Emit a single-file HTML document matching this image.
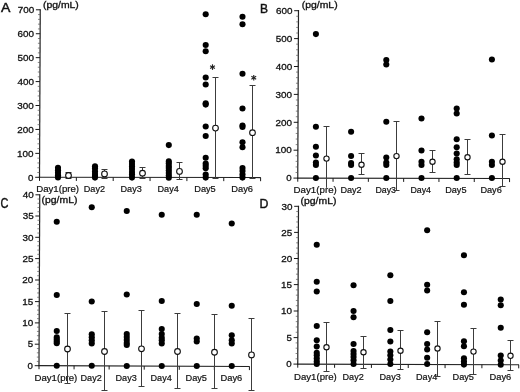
<!DOCTYPE html>
<html><head><meta charset="utf-8"><title>Figure</title>
<style>
html,body{margin:0;padding:0;background:#fff;}
body{width:520px;height:392px;overflow:hidden;font-family:"Liberation Sans",sans-serif;}
svg{display:block;will-change:transform;opacity:0.999;}
svg text{font-family:"Liberation Sans",sans-serif;}
</style></head><body>
<svg width="520" height="392" viewBox="0 0 520 392">
<rect width="520" height="392" fill="#fff"/>
<line x1="40.25" y1="9.25" x2="39.50" y2="177.80" stroke="#222" stroke-width="1.2"/>
<line x1="38.90" y1="177.30" x2="260.80" y2="177.60" stroke="#222" stroke-width="1.05"/>
<line x1="35.20" y1="177.30" x2="39.50" y2="177.30" stroke="#1a1a1a" stroke-width="1.0"/>
<text x="28.10" y="180.50" font-size="9.2" text-anchor="start" fill="#111" font-weight="normal" stroke="#111" stroke-width="0.3" textLength="5.40" lengthAdjust="spacingAndGlyphs">0</text>
<line x1="35.31" y1="153.37" x2="39.61" y2="153.37" stroke="#1a1a1a" stroke-width="1.0"/>
<text x="17.11" y="156.57" font-size="9.2" text-anchor="start" fill="#111" font-weight="normal" stroke="#111" stroke-width="0.3" textLength="16.50" lengthAdjust="spacingAndGlyphs">100</text>
<line x1="35.41" y1="129.44" x2="39.71" y2="129.44" stroke="#1a1a1a" stroke-width="1.0"/>
<text x="17.21" y="132.64" font-size="9.2" text-anchor="start" fill="#111" font-weight="normal" stroke="#111" stroke-width="0.3" textLength="16.50" lengthAdjust="spacingAndGlyphs">200</text>
<line x1="35.52" y1="105.51" x2="39.82" y2="105.51" stroke="#1a1a1a" stroke-width="1.0"/>
<text x="17.32" y="108.71" font-size="9.2" text-anchor="start" fill="#111" font-weight="normal" stroke="#111" stroke-width="0.3" textLength="16.50" lengthAdjust="spacingAndGlyphs">300</text>
<line x1="35.63" y1="81.58" x2="39.93" y2="81.58" stroke="#1a1a1a" stroke-width="1.0"/>
<text x="17.43" y="84.78" font-size="9.2" text-anchor="start" fill="#111" font-weight="normal" stroke="#111" stroke-width="0.3" textLength="16.50" lengthAdjust="spacingAndGlyphs">400</text>
<line x1="35.74" y1="57.65" x2="40.04" y2="57.65" stroke="#1a1a1a" stroke-width="1.0"/>
<text x="17.54" y="60.85" font-size="9.2" text-anchor="start" fill="#111" font-weight="normal" stroke="#111" stroke-width="0.3" textLength="16.50" lengthAdjust="spacingAndGlyphs">500</text>
<line x1="35.84" y1="33.72" x2="40.14" y2="33.72" stroke="#1a1a1a" stroke-width="1.0"/>
<text x="17.64" y="36.92" font-size="9.2" text-anchor="start" fill="#111" font-weight="normal" stroke="#111" stroke-width="0.3" textLength="16.50" lengthAdjust="spacingAndGlyphs">600</text>
<line x1="35.95" y1="9.79" x2="40.25" y2="9.79" stroke="#1a1a1a" stroke-width="1.0"/>
<text x="17.75" y="12.99" font-size="9.2" text-anchor="start" fill="#111" font-weight="normal" stroke="#111" stroke-width="0.3" textLength="16.50" lengthAdjust="spacingAndGlyphs">700</text>
<line x1="37.32" y1="172.51" x2="39.52" y2="172.51" stroke="#555" stroke-width="0.7"/>
<line x1="37.34" y1="167.73" x2="39.54" y2="167.73" stroke="#555" stroke-width="0.7"/>
<line x1="37.36" y1="162.94" x2="39.56" y2="162.94" stroke="#555" stroke-width="0.7"/>
<line x1="37.39" y1="158.16" x2="39.59" y2="158.16" stroke="#555" stroke-width="0.7"/>
<line x1="37.43" y1="148.58" x2="39.63" y2="148.58" stroke="#555" stroke-width="0.7"/>
<line x1="37.45" y1="143.80" x2="39.65" y2="143.80" stroke="#555" stroke-width="0.7"/>
<line x1="37.47" y1="139.01" x2="39.67" y2="139.01" stroke="#555" stroke-width="0.7"/>
<line x1="37.49" y1="134.23" x2="39.69" y2="134.23" stroke="#555" stroke-width="0.7"/>
<line x1="37.54" y1="124.65" x2="39.74" y2="124.65" stroke="#555" stroke-width="0.7"/>
<line x1="37.56" y1="119.87" x2="39.76" y2="119.87" stroke="#555" stroke-width="0.7"/>
<line x1="37.58" y1="115.08" x2="39.78" y2="115.08" stroke="#555" stroke-width="0.7"/>
<line x1="37.60" y1="110.30" x2="39.80" y2="110.30" stroke="#555" stroke-width="0.7"/>
<line x1="37.64" y1="100.72" x2="39.84" y2="100.72" stroke="#555" stroke-width="0.7"/>
<line x1="37.66" y1="95.94" x2="39.86" y2="95.94" stroke="#555" stroke-width="0.7"/>
<line x1="37.69" y1="91.15" x2="39.89" y2="91.15" stroke="#555" stroke-width="0.7"/>
<line x1="37.71" y1="86.37" x2="39.91" y2="86.37" stroke="#555" stroke-width="0.7"/>
<line x1="37.75" y1="76.79" x2="39.95" y2="76.79" stroke="#555" stroke-width="0.7"/>
<line x1="37.77" y1="72.01" x2="39.97" y2="72.01" stroke="#555" stroke-width="0.7"/>
<line x1="37.79" y1="67.22" x2="39.99" y2="67.22" stroke="#555" stroke-width="0.7"/>
<line x1="37.81" y1="62.44" x2="40.01" y2="62.44" stroke="#555" stroke-width="0.7"/>
<line x1="37.86" y1="52.86" x2="40.06" y2="52.86" stroke="#555" stroke-width="0.7"/>
<line x1="37.88" y1="48.08" x2="40.08" y2="48.08" stroke="#555" stroke-width="0.7"/>
<line x1="37.90" y1="43.29" x2="40.10" y2="43.29" stroke="#555" stroke-width="0.7"/>
<line x1="37.92" y1="38.51" x2="40.12" y2="38.51" stroke="#555" stroke-width="0.7"/>
<line x1="37.96" y1="28.93" x2="40.16" y2="28.93" stroke="#555" stroke-width="0.7"/>
<line x1="37.99" y1="24.15" x2="40.19" y2="24.15" stroke="#555" stroke-width="0.7"/>
<line x1="38.01" y1="19.36" x2="40.21" y2="19.36" stroke="#555" stroke-width="0.7"/>
<line x1="38.03" y1="14.58" x2="40.23" y2="14.58" stroke="#555" stroke-width="0.7"/>
<line x1="39.50" y1="177.30" x2="39.50" y2="180.90" stroke="#1a1a1a" stroke-width="1.0"/>
<line x1="76.35" y1="177.35" x2="76.35" y2="180.95" stroke="#1a1a1a" stroke-width="1.0"/>
<line x1="113.20" y1="177.40" x2="113.20" y2="181.00" stroke="#1a1a1a" stroke-width="1.0"/>
<line x1="150.05" y1="177.45" x2="150.05" y2="181.05" stroke="#1a1a1a" stroke-width="1.0"/>
<line x1="186.90" y1="177.50" x2="186.90" y2="181.10" stroke="#1a1a1a" stroke-width="1.0"/>
<line x1="223.75" y1="177.55" x2="223.75" y2="181.15" stroke="#1a1a1a" stroke-width="1.0"/>
<line x1="260.60" y1="177.60" x2="260.60" y2="181.20" stroke="#1a1a1a" stroke-width="1.0"/>
<text x="36.20" y="191.70" font-size="9" text-anchor="start" fill="#111" font-weight="normal" stroke="#111" stroke-width="0.2" textLength="42.90" lengthAdjust="spacingAndGlyphs">Day1(pre)</text>
<text x="83.75" y="191.70" font-size="9" text-anchor="start" fill="#111" font-weight="normal" stroke="#111" stroke-width="0.2" textLength="21.25" lengthAdjust="spacingAndGlyphs">Day2</text>
<text x="120.50" y="191.70" font-size="9" text-anchor="start" fill="#111" font-weight="normal" stroke="#111" stroke-width="0.2" textLength="21.25" lengthAdjust="spacingAndGlyphs">Day3</text>
<text x="157.50" y="191.70" font-size="9" text-anchor="start" fill="#111" font-weight="normal" stroke="#111" stroke-width="0.2" textLength="21.25" lengthAdjust="spacingAndGlyphs">Day4</text>
<text x="194.25" y="191.70" font-size="9" text-anchor="start" fill="#111" font-weight="normal" stroke="#111" stroke-width="0.2" textLength="21.50" lengthAdjust="spacingAndGlyphs">Day5</text>
<text x="231.25" y="191.70" font-size="9" text-anchor="start" fill="#111" font-weight="normal" stroke="#111" stroke-width="0.2" textLength="21.75" lengthAdjust="spacingAndGlyphs">Day6</text>
<circle cx="58.00" cy="167.70" r="3.05" fill="#000"/>
<circle cx="58.00" cy="170.30" r="3.05" fill="#000"/>
<circle cx="58.00" cy="172.80" r="3.05" fill="#000"/>
<circle cx="58.00" cy="175.20" r="3.05" fill="#000"/>
<circle cx="58.00" cy="177.50" r="3.05" fill="#000"/>
<circle cx="95.00" cy="166.30" r="3.05" fill="#000"/>
<circle cx="95.00" cy="168.60" r="3.05" fill="#000"/>
<circle cx="95.00" cy="171.50" r="3.05" fill="#000"/>
<circle cx="95.00" cy="174.00" r="3.05" fill="#000"/>
<circle cx="95.00" cy="176.00" r="3.05" fill="#000"/>
<circle cx="95.00" cy="177.60" r="3.05" fill="#000"/>
<circle cx="132.00" cy="161.50" r="3.05" fill="#000"/>
<circle cx="132.00" cy="164.00" r="3.05" fill="#000"/>
<circle cx="132.00" cy="166.50" r="3.05" fill="#000"/>
<circle cx="132.00" cy="169.00" r="3.05" fill="#000"/>
<circle cx="132.00" cy="172.00" r="3.05" fill="#000"/>
<circle cx="132.00" cy="174.50" r="3.05" fill="#000"/>
<circle cx="132.00" cy="177.60" r="3.05" fill="#000"/>
<circle cx="168.80" cy="145.10" r="3.05" fill="#000"/>
<circle cx="168.80" cy="161.40" r="3.05" fill="#000"/>
<circle cx="168.80" cy="163.50" r="3.05" fill="#000"/>
<circle cx="168.80" cy="166.00" r="3.05" fill="#000"/>
<circle cx="168.80" cy="168.00" r="3.05" fill="#000"/>
<circle cx="168.80" cy="170.50" r="3.05" fill="#000"/>
<circle cx="168.80" cy="173.00" r="3.05" fill="#000"/>
<circle cx="168.80" cy="175.50" r="3.05" fill="#000"/>
<circle cx="168.80" cy="177.70" r="3.05" fill="#000"/>
<circle cx="205.70" cy="14.25" r="3.05" fill="#000"/>
<circle cx="205.70" cy="45.00" r="3.05" fill="#000"/>
<circle cx="205.70" cy="51.25" r="3.05" fill="#000"/>
<circle cx="205.70" cy="77.50" r="3.05" fill="#000"/>
<circle cx="205.70" cy="84.50" r="3.05" fill="#000"/>
<circle cx="205.70" cy="103.20" r="3.05" fill="#000"/>
<circle cx="205.70" cy="104.60" r="3.05" fill="#000"/>
<circle cx="205.70" cy="126.50" r="3.05" fill="#000"/>
<circle cx="205.70" cy="136.00" r="3.05" fill="#000"/>
<circle cx="205.70" cy="157.70" r="3.05" fill="#000"/>
<circle cx="205.70" cy="163.50" r="3.05" fill="#000"/>
<circle cx="205.70" cy="165.80" r="3.05" fill="#000"/>
<circle cx="205.70" cy="168.20" r="3.05" fill="#000"/>
<circle cx="205.70" cy="174.50" r="3.05" fill="#000"/>
<circle cx="205.70" cy="177.60" r="3.05" fill="#000"/>
<circle cx="242.50" cy="16.75" r="3.05" fill="#000"/>
<circle cx="242.50" cy="24.25" r="3.05" fill="#000"/>
<circle cx="242.50" cy="73.75" r="3.05" fill="#000"/>
<circle cx="242.50" cy="108.50" r="3.05" fill="#000"/>
<circle cx="242.50" cy="125.60" r="3.05" fill="#000"/>
<circle cx="242.50" cy="127.00" r="3.05" fill="#000"/>
<circle cx="242.50" cy="142.30" r="3.05" fill="#000"/>
<circle cx="242.50" cy="147.30" r="3.05" fill="#000"/>
<circle cx="242.50" cy="168.00" r="3.05" fill="#000"/>
<circle cx="242.50" cy="171.00" r="3.05" fill="#000"/>
<circle cx="242.50" cy="174.50" r="3.05" fill="#000"/>
<circle cx="242.50" cy="177.60" r="3.05" fill="#000"/>
<line x1="68.50" y1="172.70" x2="68.50" y2="178.30" stroke="#3c3c3c" stroke-width="1.0"/>
<line x1="65.50" y1="172.50" x2="71.50" y2="172.50" stroke="#3c3c3c" stroke-width="1.0"/>
<line x1="65.50" y1="178.50" x2="71.50" y2="178.50" stroke="#3c3c3c" stroke-width="1.0"/>
<circle cx="68.50" cy="175.50" r="2.85" fill="#fff" stroke="#111" stroke-width="1.1"/>
<line x1="104.50" y1="169.25" x2="104.50" y2="178.60" stroke="#3c3c3c" stroke-width="1.0"/>
<line x1="101.50" y1="169.50" x2="107.50" y2="169.50" stroke="#3c3c3c" stroke-width="1.0"/>
<line x1="101.50" y1="178.50" x2="107.50" y2="178.50" stroke="#3c3c3c" stroke-width="1.0"/>
<circle cx="104.50" cy="173.90" r="2.85" fill="#fff" stroke="#111" stroke-width="1.1"/>
<line x1="142.50" y1="167.50" x2="142.50" y2="178.70" stroke="#3c3c3c" stroke-width="1.0"/>
<line x1="139.50" y1="167.50" x2="145.50" y2="167.50" stroke="#3c3c3c" stroke-width="1.0"/>
<line x1="139.50" y1="178.50" x2="145.50" y2="178.50" stroke="#3c3c3c" stroke-width="1.0"/>
<circle cx="142.50" cy="173.20" r="2.85" fill="#fff" stroke="#111" stroke-width="1.1"/>
<line x1="179.50" y1="162.50" x2="179.50" y2="179.40" stroke="#3c3c3c" stroke-width="1.0"/>
<line x1="176.50" y1="162.50" x2="182.50" y2="162.50" stroke="#3c3c3c" stroke-width="1.0"/>
<line x1="176.50" y1="179.50" x2="182.50" y2="179.50" stroke="#3c3c3c" stroke-width="1.0"/>
<circle cx="179.50" cy="171.40" r="2.85" fill="#fff" stroke="#111" stroke-width="1.1"/>
<line x1="215.50" y1="77.50" x2="215.50" y2="178.30" stroke="#3c3c3c" stroke-width="1.0"/>
<line x1="212.50" y1="77.50" x2="218.50" y2="77.50" stroke="#3c3c3c" stroke-width="1.0"/>
<line x1="212.50" y1="178.50" x2="218.50" y2="178.50" stroke="#3c3c3c" stroke-width="1.0"/>
<circle cx="215.50" cy="128.10" r="2.85" fill="#fff" stroke="#111" stroke-width="1.1"/>
<line x1="252.50" y1="85.50" x2="252.50" y2="178.30" stroke="#3c3c3c" stroke-width="1.0"/>
<line x1="249.50" y1="85.50" x2="255.50" y2="85.50" stroke="#3c3c3c" stroke-width="1.0"/>
<line x1="249.50" y1="178.50" x2="255.50" y2="178.50" stroke="#3c3c3c" stroke-width="1.0"/>
<circle cx="252.50" cy="132.70" r="2.85" fill="#fff" stroke="#111" stroke-width="1.1"/>
<text x="1.00" y="11.90" font-size="13" text-anchor="start" fill="#111" font-weight="normal" stroke="#111" stroke-width="0.45" textLength="9.40" lengthAdjust="spacingAndGlyphs">A</text>
<text x="43.00" y="7.60" font-size="8.8" text-anchor="start" fill="#111" font-weight="normal" stroke="#111" stroke-width="0.3" textLength="35.80" lengthAdjust="spacingAndGlyphs">(pg/mL)</text>
<line x1="212.50" y1="64.30" x2="212.50" y2="69.90" stroke="#222" stroke-width="1.15"/>
<line x1="210.08" y1="65.70" x2="214.92" y2="68.50" stroke="#222" stroke-width="1.15"/>
<line x1="214.92" y1="65.70" x2="210.08" y2="68.50" stroke="#222" stroke-width="1.15"/>
<line x1="253.75" y1="74.95" x2="253.75" y2="80.55" stroke="#222" stroke-width="1.15"/>
<line x1="251.33" y1="76.35" x2="256.17" y2="79.15" stroke="#222" stroke-width="1.15"/>
<line x1="256.17" y1="76.35" x2="251.33" y2="79.15" stroke="#222" stroke-width="1.15"/>
<line x1="298.50" y1="10.00" x2="297.75" y2="178.60" stroke="#222" stroke-width="1.2"/>
<line x1="297.15" y1="178.10" x2="509.80" y2="178.50" stroke="#222" stroke-width="1.05"/>
<line x1="293.45" y1="178.10" x2="297.75" y2="178.10" stroke="#1a1a1a" stroke-width="1.0"/>
<text x="286.35" y="181.30" font-size="9.2" text-anchor="start" fill="#111" font-weight="normal" stroke="#111" stroke-width="0.3" textLength="5.40" lengthAdjust="spacingAndGlyphs">0</text>
<line x1="293.57" y1="150.20" x2="297.87" y2="150.20" stroke="#1a1a1a" stroke-width="1.0"/>
<text x="275.37" y="153.40" font-size="9.2" text-anchor="start" fill="#111" font-weight="normal" stroke="#111" stroke-width="0.3" textLength="16.50" lengthAdjust="spacingAndGlyphs">100</text>
<line x1="293.70" y1="122.30" x2="298.00" y2="122.30" stroke="#1a1a1a" stroke-width="1.0"/>
<text x="275.50" y="125.50" font-size="9.2" text-anchor="start" fill="#111" font-weight="normal" stroke="#111" stroke-width="0.3" textLength="16.50" lengthAdjust="spacingAndGlyphs">200</text>
<line x1="293.82" y1="94.40" x2="298.12" y2="94.40" stroke="#1a1a1a" stroke-width="1.0"/>
<text x="275.62" y="97.60" font-size="9.2" text-anchor="start" fill="#111" font-weight="normal" stroke="#111" stroke-width="0.3" textLength="16.50" lengthAdjust="spacingAndGlyphs">300</text>
<line x1="293.95" y1="66.50" x2="298.25" y2="66.50" stroke="#1a1a1a" stroke-width="1.0"/>
<text x="275.75" y="69.70" font-size="9.2" text-anchor="start" fill="#111" font-weight="normal" stroke="#111" stroke-width="0.3" textLength="16.50" lengthAdjust="spacingAndGlyphs">400</text>
<line x1="294.07" y1="38.60" x2="298.37" y2="38.60" stroke="#1a1a1a" stroke-width="1.0"/>
<text x="275.87" y="41.80" font-size="9.2" text-anchor="start" fill="#111" font-weight="normal" stroke="#111" stroke-width="0.3" textLength="16.50" lengthAdjust="spacingAndGlyphs">500</text>
<line x1="294.20" y1="10.70" x2="298.50" y2="10.70" stroke="#1a1a1a" stroke-width="1.0"/>
<text x="276.00" y="13.90" font-size="9.2" text-anchor="start" fill="#111" font-weight="normal" stroke="#111" stroke-width="0.3" textLength="16.50" lengthAdjust="spacingAndGlyphs">600</text>
<line x1="295.57" y1="172.52" x2="297.77" y2="172.52" stroke="#555" stroke-width="0.7"/>
<line x1="295.60" y1="166.94" x2="297.80" y2="166.94" stroke="#555" stroke-width="0.7"/>
<line x1="295.62" y1="161.36" x2="297.82" y2="161.36" stroke="#555" stroke-width="0.7"/>
<line x1="295.65" y1="155.78" x2="297.85" y2="155.78" stroke="#555" stroke-width="0.7"/>
<line x1="295.70" y1="144.62" x2="297.90" y2="144.62" stroke="#555" stroke-width="0.7"/>
<line x1="295.72" y1="139.04" x2="297.92" y2="139.04" stroke="#555" stroke-width="0.7"/>
<line x1="295.75" y1="133.46" x2="297.95" y2="133.46" stroke="#555" stroke-width="0.7"/>
<line x1="295.77" y1="127.88" x2="297.97" y2="127.88" stroke="#555" stroke-width="0.7"/>
<line x1="295.82" y1="116.72" x2="298.02" y2="116.72" stroke="#555" stroke-width="0.7"/>
<line x1="295.85" y1="111.14" x2="298.05" y2="111.14" stroke="#555" stroke-width="0.7"/>
<line x1="295.87" y1="105.56" x2="298.07" y2="105.56" stroke="#555" stroke-width="0.7"/>
<line x1="295.90" y1="99.98" x2="298.10" y2="99.98" stroke="#555" stroke-width="0.7"/>
<line x1="295.95" y1="88.82" x2="298.15" y2="88.82" stroke="#555" stroke-width="0.7"/>
<line x1="295.97" y1="83.24" x2="298.17" y2="83.24" stroke="#555" stroke-width="0.7"/>
<line x1="296.00" y1="77.66" x2="298.20" y2="77.66" stroke="#555" stroke-width="0.7"/>
<line x1="296.02" y1="72.08" x2="298.22" y2="72.08" stroke="#555" stroke-width="0.7"/>
<line x1="296.07" y1="60.92" x2="298.27" y2="60.92" stroke="#555" stroke-width="0.7"/>
<line x1="296.10" y1="55.34" x2="298.30" y2="55.34" stroke="#555" stroke-width="0.7"/>
<line x1="296.12" y1="49.76" x2="298.32" y2="49.76" stroke="#555" stroke-width="0.7"/>
<line x1="296.15" y1="44.18" x2="298.35" y2="44.18" stroke="#555" stroke-width="0.7"/>
<line x1="296.20" y1="33.02" x2="298.40" y2="33.02" stroke="#555" stroke-width="0.7"/>
<line x1="296.22" y1="27.44" x2="298.42" y2="27.44" stroke="#555" stroke-width="0.7"/>
<line x1="296.25" y1="21.86" x2="298.45" y2="21.86" stroke="#555" stroke-width="0.7"/>
<line x1="296.27" y1="16.28" x2="298.47" y2="16.28" stroke="#555" stroke-width="0.7"/>
<line x1="297.75" y1="178.10" x2="297.75" y2="181.70" stroke="#1a1a1a" stroke-width="1.0"/>
<line x1="333.05" y1="178.17" x2="333.05" y2="181.77" stroke="#1a1a1a" stroke-width="1.0"/>
<line x1="368.35" y1="178.23" x2="368.35" y2="181.83" stroke="#1a1a1a" stroke-width="1.0"/>
<line x1="403.65" y1="178.30" x2="403.65" y2="181.90" stroke="#1a1a1a" stroke-width="1.0"/>
<line x1="438.95" y1="178.37" x2="438.95" y2="181.97" stroke="#1a1a1a" stroke-width="1.0"/>
<line x1="474.25" y1="178.43" x2="474.25" y2="182.03" stroke="#1a1a1a" stroke-width="1.0"/>
<line x1="509.55" y1="178.50" x2="509.55" y2="182.10" stroke="#1a1a1a" stroke-width="1.0"/>
<text x="293.60" y="192.90" font-size="9" text-anchor="start" fill="#111" font-weight="normal" stroke="#111" stroke-width="0.2" textLength="43.20" lengthAdjust="spacingAndGlyphs">Day1(pre)</text>
<text x="340.40" y="192.90" font-size="9" text-anchor="start" fill="#111" font-weight="normal" stroke="#111" stroke-width="0.2" textLength="21.25" lengthAdjust="spacingAndGlyphs">Day2</text>
<text x="375.40" y="192.90" font-size="9" text-anchor="start" fill="#111" font-weight="normal" stroke="#111" stroke-width="0.2" textLength="20.60" lengthAdjust="spacingAndGlyphs">Day3</text>
<text x="410.40" y="192.90" font-size="9" text-anchor="start" fill="#111" font-weight="normal" stroke="#111" stroke-width="0.2" textLength="20.60" lengthAdjust="spacingAndGlyphs">Day4</text>
<text x="445.20" y="192.90" font-size="9" text-anchor="start" fill="#111" font-weight="normal" stroke="#111" stroke-width="0.2" textLength="21.30" lengthAdjust="spacingAndGlyphs">Day5</text>
<text x="480.40" y="192.90" font-size="9" text-anchor="start" fill="#111" font-weight="normal" stroke="#111" stroke-width="0.2" textLength="21.40" lengthAdjust="spacingAndGlyphs">Day6</text>
<circle cx="315.90" cy="34.10" r="3.05" fill="#000"/>
<circle cx="315.90" cy="126.75" r="3.05" fill="#000"/>
<circle cx="315.90" cy="146.75" r="3.05" fill="#000"/>
<circle cx="315.90" cy="155.50" r="3.05" fill="#000"/>
<circle cx="315.90" cy="162.50" r="3.05" fill="#000"/>
<circle cx="315.90" cy="165.00" r="3.05" fill="#000"/>
<circle cx="315.90" cy="178.00" r="3.05" fill="#000"/>
<circle cx="351.10" cy="131.75" r="3.05" fill="#000"/>
<circle cx="351.10" cy="156.00" r="3.05" fill="#000"/>
<circle cx="351.10" cy="163.00" r="3.05" fill="#000"/>
<circle cx="351.10" cy="165.00" r="3.05" fill="#000"/>
<circle cx="351.10" cy="178.00" r="3.05" fill="#000"/>
<circle cx="386.30" cy="60.00" r="3.05" fill="#000"/>
<circle cx="386.30" cy="64.50" r="3.05" fill="#000"/>
<circle cx="386.30" cy="121.75" r="3.05" fill="#000"/>
<circle cx="386.30" cy="157.50" r="3.05" fill="#000"/>
<circle cx="386.30" cy="162.50" r="3.05" fill="#000"/>
<circle cx="386.30" cy="165.00" r="3.05" fill="#000"/>
<circle cx="386.30" cy="178.00" r="3.05" fill="#000"/>
<circle cx="421.50" cy="118.50" r="3.05" fill="#000"/>
<circle cx="421.50" cy="150.50" r="3.05" fill="#000"/>
<circle cx="421.50" cy="161.75" r="3.05" fill="#000"/>
<circle cx="421.50" cy="165.00" r="3.05" fill="#000"/>
<circle cx="421.50" cy="178.00" r="3.05" fill="#000"/>
<circle cx="456.70" cy="108.50" r="3.05" fill="#000"/>
<circle cx="456.70" cy="113.50" r="3.05" fill="#000"/>
<circle cx="456.70" cy="139.25" r="3.05" fill="#000"/>
<circle cx="456.70" cy="147.25" r="3.05" fill="#000"/>
<circle cx="456.70" cy="153.50" r="3.05" fill="#000"/>
<circle cx="456.70" cy="159.25" r="3.05" fill="#000"/>
<circle cx="456.70" cy="162.50" r="3.05" fill="#000"/>
<circle cx="456.70" cy="165.00" r="3.05" fill="#000"/>
<circle cx="456.70" cy="178.00" r="3.05" fill="#000"/>
<circle cx="491.90" cy="59.50" r="3.05" fill="#000"/>
<circle cx="491.90" cy="135.50" r="3.05" fill="#000"/>
<circle cx="491.90" cy="161.75" r="3.05" fill="#000"/>
<circle cx="491.90" cy="165.00" r="3.05" fill="#000"/>
<circle cx="491.90" cy="178.00" r="3.05" fill="#000"/>
<line x1="326.50" y1="126.75" x2="326.50" y2="187.80" stroke="#3c3c3c" stroke-width="1.0"/>
<line x1="323.50" y1="126.50" x2="329.50" y2="126.50" stroke="#3c3c3c" stroke-width="1.0"/>
<circle cx="326.50" cy="158.60" r="2.65" fill="#fff" stroke="#111" stroke-width="1.1"/>
<line x1="361.50" y1="153.50" x2="361.50" y2="175.00" stroke="#3c3c3c" stroke-width="1.0"/>
<line x1="358.50" y1="153.50" x2="364.50" y2="153.50" stroke="#3c3c3c" stroke-width="1.0"/>
<line x1="358.50" y1="174.50" x2="364.50" y2="174.50" stroke="#3c3c3c" stroke-width="1.0"/>
<circle cx="361.50" cy="164.75" r="2.65" fill="#fff" stroke="#111" stroke-width="1.1"/>
<line x1="396.50" y1="121.25" x2="396.50" y2="190.60" stroke="#3c3c3c" stroke-width="1.0"/>
<line x1="393.50" y1="121.50" x2="399.50" y2="121.50" stroke="#3c3c3c" stroke-width="1.0"/>
<line x1="393.50" y1="190.50" x2="399.50" y2="190.50" stroke="#3c3c3c" stroke-width="1.0"/>
<circle cx="396.50" cy="156.10" r="2.65" fill="#fff" stroke="#111" stroke-width="1.1"/>
<line x1="432.50" y1="150.50" x2="432.50" y2="172.25" stroke="#3c3c3c" stroke-width="1.0"/>
<line x1="429.50" y1="150.50" x2="435.50" y2="150.50" stroke="#3c3c3c" stroke-width="1.0"/>
<line x1="429.50" y1="172.50" x2="435.50" y2="172.50" stroke="#3c3c3c" stroke-width="1.0"/>
<circle cx="432.50" cy="161.75" r="2.65" fill="#fff" stroke="#111" stroke-width="1.1"/>
<line x1="467.50" y1="139.25" x2="467.50" y2="174.75" stroke="#3c3c3c" stroke-width="1.0"/>
<line x1="464.50" y1="139.50" x2="470.50" y2="139.50" stroke="#3c3c3c" stroke-width="1.0"/>
<line x1="464.50" y1="174.50" x2="470.50" y2="174.50" stroke="#3c3c3c" stroke-width="1.0"/>
<circle cx="467.50" cy="157.25" r="2.65" fill="#fff" stroke="#111" stroke-width="1.1"/>
<line x1="502.50" y1="135.00" x2="502.50" y2="186.75" stroke="#3c3c3c" stroke-width="1.0"/>
<line x1="499.50" y1="134.50" x2="505.50" y2="134.50" stroke="#3c3c3c" stroke-width="1.0"/>
<line x1="499.50" y1="186.50" x2="505.50" y2="186.50" stroke="#3c3c3c" stroke-width="1.0"/>
<circle cx="502.50" cy="161.75" r="2.65" fill="#fff" stroke="#111" stroke-width="1.1"/>
<text x="260.10" y="12.50" font-size="12.1" text-anchor="start" fill="#111" font-weight="normal" stroke="#111" stroke-width="0.45" textLength="8.00" lengthAdjust="spacingAndGlyphs">B</text>
<text x="301.80" y="7.60" font-size="8.8" text-anchor="start" fill="#111" font-weight="normal" stroke="#111" stroke-width="0.3" textLength="35.80" lengthAdjust="spacingAndGlyphs">(pg/mL)</text>
<line x1="39.75" y1="194.30" x2="39.00" y2="366.10" stroke="#222" stroke-width="1.2"/>
<line x1="38.40" y1="365.60" x2="249.60" y2="366.50" stroke="#222" stroke-width="1.05"/>
<line x1="34.70" y1="365.70" x2="39.00" y2="365.70" stroke="#1a1a1a" stroke-width="1.0"/>
<text x="27.60" y="368.90" font-size="9.2" text-anchor="start" fill="#111" font-weight="normal" stroke="#111" stroke-width="0.3" textLength="5.40" lengthAdjust="spacingAndGlyphs">0</text>
<line x1="34.79" y1="344.20" x2="39.09" y2="344.20" stroke="#1a1a1a" stroke-width="1.0"/>
<text x="27.69" y="347.40" font-size="9.2" text-anchor="start" fill="#111" font-weight="normal" stroke="#111" stroke-width="0.3" textLength="5.40" lengthAdjust="spacingAndGlyphs">5</text>
<line x1="34.89" y1="322.90" x2="39.19" y2="322.90" stroke="#1a1a1a" stroke-width="1.0"/>
<text x="22.19" y="326.10" font-size="9.2" text-anchor="start" fill="#111" font-weight="normal" stroke="#111" stroke-width="0.3" textLength="11.00" lengthAdjust="spacingAndGlyphs">10</text>
<line x1="34.98" y1="301.60" x2="39.28" y2="301.60" stroke="#1a1a1a" stroke-width="1.0"/>
<text x="22.28" y="304.80" font-size="9.2" text-anchor="start" fill="#111" font-weight="normal" stroke="#111" stroke-width="0.3" textLength="11.00" lengthAdjust="spacingAndGlyphs">15</text>
<line x1="35.08" y1="280.00" x2="39.38" y2="280.00" stroke="#1a1a1a" stroke-width="1.0"/>
<text x="22.38" y="283.20" font-size="9.2" text-anchor="start" fill="#111" font-weight="normal" stroke="#111" stroke-width="0.3" textLength="11.00" lengthAdjust="spacingAndGlyphs">20</text>
<line x1="35.17" y1="258.60" x2="39.47" y2="258.60" stroke="#1a1a1a" stroke-width="1.0"/>
<text x="22.47" y="261.80" font-size="9.2" text-anchor="start" fill="#111" font-weight="normal" stroke="#111" stroke-width="0.3" textLength="11.00" lengthAdjust="spacingAndGlyphs">25</text>
<line x1="35.26" y1="237.30" x2="39.56" y2="237.30" stroke="#1a1a1a" stroke-width="1.0"/>
<text x="22.56" y="240.50" font-size="9.2" text-anchor="start" fill="#111" font-weight="normal" stroke="#111" stroke-width="0.3" textLength="11.00" lengthAdjust="spacingAndGlyphs">30</text>
<line x1="35.36" y1="216.00" x2="39.66" y2="216.00" stroke="#1a1a1a" stroke-width="1.0"/>
<text x="22.66" y="219.20" font-size="9.2" text-anchor="start" fill="#111" font-weight="normal" stroke="#111" stroke-width="0.3" textLength="11.00" lengthAdjust="spacingAndGlyphs">35</text>
<line x1="35.45" y1="194.80" x2="39.75" y2="194.80" stroke="#1a1a1a" stroke-width="1.0"/>
<text x="22.75" y="198.00" font-size="9.2" text-anchor="start" fill="#111" font-weight="normal" stroke="#111" stroke-width="0.3" textLength="11.00" lengthAdjust="spacingAndGlyphs">40</text>
<line x1="36.82" y1="361.40" x2="39.02" y2="361.40" stroke="#555" stroke-width="0.7"/>
<line x1="36.84" y1="357.10" x2="39.04" y2="357.10" stroke="#555" stroke-width="0.7"/>
<line x1="36.86" y1="352.80" x2="39.06" y2="352.80" stroke="#555" stroke-width="0.7"/>
<line x1="36.88" y1="348.50" x2="39.08" y2="348.50" stroke="#555" stroke-width="0.7"/>
<line x1="36.91" y1="339.94" x2="39.11" y2="339.94" stroke="#555" stroke-width="0.7"/>
<line x1="36.93" y1="335.68" x2="39.13" y2="335.68" stroke="#555" stroke-width="0.7"/>
<line x1="36.95" y1="331.42" x2="39.15" y2="331.42" stroke="#555" stroke-width="0.7"/>
<line x1="36.97" y1="327.16" x2="39.17" y2="327.16" stroke="#555" stroke-width="0.7"/>
<line x1="37.01" y1="318.64" x2="39.21" y2="318.64" stroke="#555" stroke-width="0.7"/>
<line x1="37.02" y1="314.38" x2="39.22" y2="314.38" stroke="#555" stroke-width="0.7"/>
<line x1="37.04" y1="310.12" x2="39.24" y2="310.12" stroke="#555" stroke-width="0.7"/>
<line x1="37.06" y1="305.86" x2="39.26" y2="305.86" stroke="#555" stroke-width="0.7"/>
<line x1="37.10" y1="297.28" x2="39.30" y2="297.28" stroke="#555" stroke-width="0.7"/>
<line x1="37.12" y1="292.96" x2="39.32" y2="292.96" stroke="#555" stroke-width="0.7"/>
<line x1="37.14" y1="288.64" x2="39.34" y2="288.64" stroke="#555" stroke-width="0.7"/>
<line x1="37.16" y1="284.32" x2="39.36" y2="284.32" stroke="#555" stroke-width="0.7"/>
<line x1="37.19" y1="275.72" x2="39.39" y2="275.72" stroke="#555" stroke-width="0.7"/>
<line x1="37.21" y1="271.44" x2="39.41" y2="271.44" stroke="#555" stroke-width="0.7"/>
<line x1="37.23" y1="267.16" x2="39.43" y2="267.16" stroke="#555" stroke-width="0.7"/>
<line x1="37.25" y1="262.88" x2="39.45" y2="262.88" stroke="#555" stroke-width="0.7"/>
<line x1="37.29" y1="254.34" x2="39.49" y2="254.34" stroke="#555" stroke-width="0.7"/>
<line x1="37.31" y1="250.08" x2="39.51" y2="250.08" stroke="#555" stroke-width="0.7"/>
<line x1="37.33" y1="245.82" x2="39.53" y2="245.82" stroke="#555" stroke-width="0.7"/>
<line x1="37.34" y1="241.56" x2="39.54" y2="241.56" stroke="#555" stroke-width="0.7"/>
<line x1="37.38" y1="233.04" x2="39.58" y2="233.04" stroke="#555" stroke-width="0.7"/>
<line x1="37.40" y1="228.78" x2="39.60" y2="228.78" stroke="#555" stroke-width="0.7"/>
<line x1="37.42" y1="224.52" x2="39.62" y2="224.52" stroke="#555" stroke-width="0.7"/>
<line x1="37.44" y1="220.26" x2="39.64" y2="220.26" stroke="#555" stroke-width="0.7"/>
<line x1="37.48" y1="211.76" x2="39.68" y2="211.76" stroke="#555" stroke-width="0.7"/>
<line x1="37.49" y1="207.52" x2="39.69" y2="207.52" stroke="#555" stroke-width="0.7"/>
<line x1="37.51" y1="203.28" x2="39.71" y2="203.28" stroke="#555" stroke-width="0.7"/>
<line x1="37.53" y1="199.04" x2="39.73" y2="199.04" stroke="#555" stroke-width="0.7"/>
<line x1="39.00" y1="365.60" x2="39.00" y2="369.20" stroke="#1a1a1a" stroke-width="1.0"/>
<line x1="74.07" y1="365.75" x2="74.07" y2="369.35" stroke="#1a1a1a" stroke-width="1.0"/>
<line x1="109.14" y1="365.90" x2="109.14" y2="369.50" stroke="#1a1a1a" stroke-width="1.0"/>
<line x1="144.21" y1="366.05" x2="144.21" y2="369.65" stroke="#1a1a1a" stroke-width="1.0"/>
<line x1="179.28" y1="366.20" x2="179.28" y2="369.80" stroke="#1a1a1a" stroke-width="1.0"/>
<line x1="214.35" y1="366.35" x2="214.35" y2="369.95" stroke="#1a1a1a" stroke-width="1.0"/>
<line x1="249.42" y1="366.50" x2="249.42" y2="370.10" stroke="#1a1a1a" stroke-width="1.0"/>
<text x="34.50" y="380.60" font-size="9" text-anchor="start" fill="#111" font-weight="normal" stroke="#111" stroke-width="0.2" textLength="42.75" lengthAdjust="spacingAndGlyphs">Day1(pre)</text>
<text x="80.50" y="380.60" font-size="9" text-anchor="start" fill="#111" font-weight="normal" stroke="#111" stroke-width="0.2" textLength="21.25" lengthAdjust="spacingAndGlyphs">Day2</text>
<text x="115.50" y="380.60" font-size="9" text-anchor="start" fill="#111" font-weight="normal" stroke="#111" stroke-width="0.2" textLength="21.25" lengthAdjust="spacingAndGlyphs">Day3</text>
<text x="150.50" y="380.60" font-size="9" text-anchor="start" fill="#111" font-weight="normal" stroke="#111" stroke-width="0.2" textLength="21.25" lengthAdjust="spacingAndGlyphs">Day4</text>
<text x="185.50" y="380.60" font-size="9" text-anchor="start" fill="#111" font-weight="normal" stroke="#111" stroke-width="0.2" textLength="21.50" lengthAdjust="spacingAndGlyphs">Day5</text>
<text x="220.50" y="380.60" font-size="9" text-anchor="start" fill="#111" font-weight="normal" stroke="#111" stroke-width="0.2" textLength="21.75" lengthAdjust="spacingAndGlyphs">Day6</text>
<circle cx="56.75" cy="221.75" r="3.05" fill="#000"/>
<circle cx="56.75" cy="295.00" r="3.05" fill="#000"/>
<circle cx="56.75" cy="331.00" r="3.05" fill="#000"/>
<circle cx="56.75" cy="337.40" r="3.05" fill="#000"/>
<circle cx="56.75" cy="339.50" r="3.05" fill="#000"/>
<circle cx="56.75" cy="341.50" r="3.05" fill="#000"/>
<circle cx="56.75" cy="343.30" r="3.05" fill="#000"/>
<circle cx="56.75" cy="365.70" r="3.05" fill="#000"/>
<circle cx="91.75" cy="207.25" r="3.05" fill="#000"/>
<circle cx="91.75" cy="301.50" r="3.05" fill="#000"/>
<circle cx="91.75" cy="334.30" r="3.05" fill="#000"/>
<circle cx="91.75" cy="337.30" r="3.05" fill="#000"/>
<circle cx="91.75" cy="340.30" r="3.05" fill="#000"/>
<circle cx="91.75" cy="343.40" r="3.05" fill="#000"/>
<circle cx="91.75" cy="365.80" r="3.05" fill="#000"/>
<circle cx="126.75" cy="211.00" r="3.05" fill="#000"/>
<circle cx="126.75" cy="294.50" r="3.05" fill="#000"/>
<circle cx="126.75" cy="334.00" r="3.05" fill="#000"/>
<circle cx="126.75" cy="337.00" r="3.05" fill="#000"/>
<circle cx="126.75" cy="340.00" r="3.05" fill="#000"/>
<circle cx="126.75" cy="343.00" r="3.05" fill="#000"/>
<circle cx="126.75" cy="345.00" r="3.05" fill="#000"/>
<circle cx="126.75" cy="366.00" r="3.05" fill="#000"/>
<circle cx="161.75" cy="214.75" r="3.05" fill="#000"/>
<circle cx="161.75" cy="301.00" r="3.05" fill="#000"/>
<circle cx="161.75" cy="329.00" r="3.05" fill="#000"/>
<circle cx="161.75" cy="334.00" r="3.05" fill="#000"/>
<circle cx="161.75" cy="337.75" r="3.05" fill="#000"/>
<circle cx="161.75" cy="340.25" r="3.05" fill="#000"/>
<circle cx="161.75" cy="343.50" r="3.05" fill="#000"/>
<circle cx="161.75" cy="366.00" r="3.05" fill="#000"/>
<circle cx="196.75" cy="214.75" r="3.05" fill="#000"/>
<circle cx="196.75" cy="304.00" r="3.05" fill="#000"/>
<circle cx="196.75" cy="338.50" r="3.05" fill="#000"/>
<circle cx="196.75" cy="341.50" r="3.05" fill="#000"/>
<circle cx="196.75" cy="366.00" r="3.05" fill="#000"/>
<circle cx="231.75" cy="223.50" r="3.05" fill="#000"/>
<circle cx="231.75" cy="305.75" r="3.05" fill="#000"/>
<circle cx="231.75" cy="335.25" r="3.05" fill="#000"/>
<circle cx="231.75" cy="340.25" r="3.05" fill="#000"/>
<circle cx="231.75" cy="343.50" r="3.05" fill="#000"/>
<circle cx="231.75" cy="366.00" r="3.05" fill="#000"/>
<line x1="67.50" y1="313.25" x2="67.50" y2="383.50" stroke="#3c3c3c" stroke-width="1.0"/>
<line x1="64.50" y1="313.50" x2="70.50" y2="313.50" stroke="#3c3c3c" stroke-width="1.0"/>
<line x1="64.50" y1="383.50" x2="70.50" y2="383.50" stroke="#3c3c3c" stroke-width="1.0"/>
<circle cx="67.50" cy="349.00" r="2.85" fill="#fff" stroke="#111" stroke-width="1.1"/>
<line x1="104.50" y1="311.50" x2="104.50" y2="390.25" stroke="#3c3c3c" stroke-width="1.0"/>
<line x1="101.50" y1="311.50" x2="107.50" y2="311.50" stroke="#3c3c3c" stroke-width="1.0"/>
<line x1="101.50" y1="390.50" x2="107.50" y2="390.50" stroke="#3c3c3c" stroke-width="1.0"/>
<circle cx="104.50" cy="351.50" r="2.85" fill="#fff" stroke="#111" stroke-width="1.1"/>
<line x1="141.50" y1="310.75" x2="141.50" y2="386.50" stroke="#3c3c3c" stroke-width="1.0"/>
<line x1="138.50" y1="310.50" x2="144.50" y2="310.50" stroke="#3c3c3c" stroke-width="1.0"/>
<line x1="138.50" y1="386.50" x2="144.50" y2="386.50" stroke="#3c3c3c" stroke-width="1.0"/>
<circle cx="141.50" cy="348.80" r="2.85" fill="#fff" stroke="#111" stroke-width="1.1"/>
<line x1="177.50" y1="313.25" x2="177.50" y2="389.00" stroke="#3c3c3c" stroke-width="1.0"/>
<line x1="174.50" y1="313.50" x2="180.50" y2="313.50" stroke="#3c3c3c" stroke-width="1.0"/>
<line x1="174.50" y1="388.50" x2="180.50" y2="388.50" stroke="#3c3c3c" stroke-width="1.0"/>
<circle cx="177.50" cy="351.50" r="2.85" fill="#fff" stroke="#111" stroke-width="1.1"/>
<line x1="214.50" y1="314.50" x2="214.50" y2="389.00" stroke="#3c3c3c" stroke-width="1.0"/>
<line x1="211.50" y1="314.50" x2="217.50" y2="314.50" stroke="#3c3c3c" stroke-width="1.0"/>
<line x1="211.50" y1="388.50" x2="217.50" y2="388.50" stroke="#3c3c3c" stroke-width="1.0"/>
<circle cx="214.50" cy="352.25" r="2.85" fill="#fff" stroke="#111" stroke-width="1.1"/>
<line x1="251.50" y1="318.50" x2="251.50" y2="390.50" stroke="#3c3c3c" stroke-width="1.0"/>
<line x1="248.50" y1="318.50" x2="254.50" y2="318.50" stroke="#3c3c3c" stroke-width="1.0"/>
<line x1="248.50" y1="390.50" x2="254.50" y2="390.50" stroke="#3c3c3c" stroke-width="1.0"/>
<circle cx="251.50" cy="354.90" r="2.85" fill="#fff" stroke="#111" stroke-width="1.1"/>
<text x="0.60" y="207.80" font-size="15.3" text-anchor="start" fill="#111" font-weight="normal" stroke="#111" stroke-width="0.45" textLength="7.90" lengthAdjust="spacingAndGlyphs">C</text>
<text x="41.60" y="203.40" font-size="8.8" text-anchor="start" fill="#111" font-weight="normal" stroke="#111" stroke-width="0.3" textLength="35.80" lengthAdjust="spacingAndGlyphs">(pg/mL)</text>
<line x1="298.50" y1="205.80" x2="297.75" y2="364.60" stroke="#222" stroke-width="1.2"/>
<line x1="297.15" y1="364.10" x2="518.90" y2="364.75" stroke="#222" stroke-width="1.05"/>
<line x1="293.45" y1="364.10" x2="297.75" y2="364.10" stroke="#1a1a1a" stroke-width="1.0"/>
<text x="286.35" y="367.30" font-size="9.2" text-anchor="start" fill="#111" font-weight="normal" stroke="#111" stroke-width="0.3" textLength="5.40" lengthAdjust="spacingAndGlyphs">0</text>
<line x1="293.58" y1="337.60" x2="297.88" y2="337.60" stroke="#1a1a1a" stroke-width="1.0"/>
<text x="286.48" y="340.80" font-size="9.2" text-anchor="start" fill="#111" font-weight="normal" stroke="#111" stroke-width="0.3" textLength="5.40" lengthAdjust="spacingAndGlyphs">5</text>
<line x1="293.70" y1="311.00" x2="298.00" y2="311.00" stroke="#1a1a1a" stroke-width="1.0"/>
<text x="281.00" y="314.20" font-size="9.2" text-anchor="start" fill="#111" font-weight="normal" stroke="#111" stroke-width="0.3" textLength="11.00" lengthAdjust="spacingAndGlyphs">10</text>
<line x1="293.83" y1="284.60" x2="298.13" y2="284.60" stroke="#1a1a1a" stroke-width="1.0"/>
<text x="281.13" y="287.80" font-size="9.2" text-anchor="start" fill="#111" font-weight="normal" stroke="#111" stroke-width="0.3" textLength="11.00" lengthAdjust="spacingAndGlyphs">15</text>
<line x1="293.95" y1="258.50" x2="298.25" y2="258.50" stroke="#1a1a1a" stroke-width="1.0"/>
<text x="281.25" y="261.70" font-size="9.2" text-anchor="start" fill="#111" font-weight="normal" stroke="#111" stroke-width="0.3" textLength="11.00" lengthAdjust="spacingAndGlyphs">20</text>
<line x1="294.08" y1="232.40" x2="298.38" y2="232.40" stroke="#1a1a1a" stroke-width="1.0"/>
<text x="281.38" y="235.60" font-size="9.2" text-anchor="start" fill="#111" font-weight="normal" stroke="#111" stroke-width="0.3" textLength="11.00" lengthAdjust="spacingAndGlyphs">25</text>
<line x1="294.20" y1="206.30" x2="298.50" y2="206.30" stroke="#1a1a1a" stroke-width="1.0"/>
<text x="281.50" y="209.50" font-size="9.2" text-anchor="start" fill="#111" font-weight="normal" stroke="#111" stroke-width="0.3" textLength="11.00" lengthAdjust="spacingAndGlyphs">30</text>
<line x1="295.58" y1="358.80" x2="297.78" y2="358.80" stroke="#555" stroke-width="0.7"/>
<line x1="295.60" y1="353.50" x2="297.80" y2="353.50" stroke="#555" stroke-width="0.7"/>
<line x1="295.63" y1="348.20" x2="297.83" y2="348.20" stroke="#555" stroke-width="0.7"/>
<line x1="295.65" y1="342.90" x2="297.85" y2="342.90" stroke="#555" stroke-width="0.7"/>
<line x1="295.70" y1="332.28" x2="297.90" y2="332.28" stroke="#555" stroke-width="0.7"/>
<line x1="295.73" y1="326.96" x2="297.93" y2="326.96" stroke="#555" stroke-width="0.7"/>
<line x1="295.75" y1="321.64" x2="297.95" y2="321.64" stroke="#555" stroke-width="0.7"/>
<line x1="295.78" y1="316.32" x2="297.98" y2="316.32" stroke="#555" stroke-width="0.7"/>
<line x1="295.83" y1="305.72" x2="298.03" y2="305.72" stroke="#555" stroke-width="0.7"/>
<line x1="295.85" y1="300.44" x2="298.05" y2="300.44" stroke="#555" stroke-width="0.7"/>
<line x1="295.88" y1="295.16" x2="298.08" y2="295.16" stroke="#555" stroke-width="0.7"/>
<line x1="295.90" y1="289.88" x2="298.10" y2="289.88" stroke="#555" stroke-width="0.7"/>
<line x1="295.95" y1="279.38" x2="298.15" y2="279.38" stroke="#555" stroke-width="0.7"/>
<line x1="295.98" y1="274.16" x2="298.18" y2="274.16" stroke="#555" stroke-width="0.7"/>
<line x1="296.00" y1="268.94" x2="298.20" y2="268.94" stroke="#555" stroke-width="0.7"/>
<line x1="296.03" y1="263.72" x2="298.23" y2="263.72" stroke="#555" stroke-width="0.7"/>
<line x1="296.08" y1="253.28" x2="298.28" y2="253.28" stroke="#555" stroke-width="0.7"/>
<line x1="296.10" y1="248.06" x2="298.30" y2="248.06" stroke="#555" stroke-width="0.7"/>
<line x1="296.13" y1="242.84" x2="298.33" y2="242.84" stroke="#555" stroke-width="0.7"/>
<line x1="296.15" y1="237.62" x2="298.35" y2="237.62" stroke="#555" stroke-width="0.7"/>
<line x1="296.20" y1="227.18" x2="298.40" y2="227.18" stroke="#555" stroke-width="0.7"/>
<line x1="296.23" y1="221.96" x2="298.43" y2="221.96" stroke="#555" stroke-width="0.7"/>
<line x1="296.25" y1="216.74" x2="298.45" y2="216.74" stroke="#555" stroke-width="0.7"/>
<line x1="296.28" y1="211.52" x2="298.48" y2="211.52" stroke="#555" stroke-width="0.7"/>
<line x1="297.75" y1="364.10" x2="297.75" y2="367.70" stroke="#1a1a1a" stroke-width="1.0"/>
<line x1="334.58" y1="364.21" x2="334.58" y2="367.81" stroke="#1a1a1a" stroke-width="1.0"/>
<line x1="371.41" y1="364.32" x2="371.41" y2="367.92" stroke="#1a1a1a" stroke-width="1.0"/>
<line x1="408.24" y1="364.42" x2="408.24" y2="368.02" stroke="#1a1a1a" stroke-width="1.0"/>
<line x1="445.07" y1="364.53" x2="445.07" y2="368.13" stroke="#1a1a1a" stroke-width="1.0"/>
<line x1="481.90" y1="364.64" x2="481.90" y2="368.24" stroke="#1a1a1a" stroke-width="1.0"/>
<line x1="518.73" y1="364.75" x2="518.73" y2="368.35" stroke="#1a1a1a" stroke-width="1.0"/>
<text x="294.00" y="379.60" font-size="9" text-anchor="start" fill="#111" font-weight="normal" stroke="#111" stroke-width="0.2" textLength="42.75" lengthAdjust="spacingAndGlyphs">Day1(pre)</text>
<text x="342.50" y="379.60" font-size="9" text-anchor="start" fill="#111" font-weight="normal" stroke="#111" stroke-width="0.2" textLength="21.25" lengthAdjust="spacingAndGlyphs">Day2</text>
<text x="379.50" y="379.60" font-size="9" text-anchor="start" fill="#111" font-weight="normal" stroke="#111" stroke-width="0.2" textLength="21.25" lengthAdjust="spacingAndGlyphs">Day3</text>
<text x="416.00" y="379.60" font-size="9" text-anchor="start" fill="#111" font-weight="normal" stroke="#111" stroke-width="0.2" textLength="21.25" lengthAdjust="spacingAndGlyphs">Day4</text>
<text x="452.50" y="379.60" font-size="9" text-anchor="start" fill="#111" font-weight="normal" stroke="#111" stroke-width="0.2" textLength="21.50" lengthAdjust="spacingAndGlyphs">Day5</text>
<text x="489.50" y="379.60" font-size="9" text-anchor="start" fill="#111" font-weight="normal" stroke="#111" stroke-width="0.2" textLength="21.75" lengthAdjust="spacingAndGlyphs">Day6</text>
<circle cx="316.75" cy="244.75" r="3.05" fill="#000"/>
<circle cx="316.75" cy="281.75" r="3.05" fill="#000"/>
<circle cx="316.75" cy="291.50" r="3.05" fill="#000"/>
<circle cx="316.75" cy="326.00" r="3.05" fill="#000"/>
<circle cx="316.75" cy="340.25" r="3.05" fill="#000"/>
<circle cx="316.75" cy="346.50" r="3.05" fill="#000"/>
<circle cx="316.75" cy="352.75" r="3.05" fill="#000"/>
<circle cx="316.75" cy="355.25" r="3.05" fill="#000"/>
<circle cx="316.75" cy="358.50" r="3.05" fill="#000"/>
<circle cx="316.75" cy="361.50" r="3.05" fill="#000"/>
<circle cx="316.75" cy="364.00" r="3.05" fill="#000"/>
<circle cx="353.55" cy="285.25" r="3.05" fill="#000"/>
<circle cx="353.55" cy="311.00" r="3.05" fill="#000"/>
<circle cx="353.55" cy="317.25" r="3.05" fill="#000"/>
<circle cx="353.55" cy="344.00" r="3.05" fill="#000"/>
<circle cx="353.55" cy="351.00" r="3.05" fill="#000"/>
<circle cx="353.55" cy="354.00" r="3.05" fill="#000"/>
<circle cx="353.55" cy="357.00" r="3.05" fill="#000"/>
<circle cx="353.55" cy="360.25" r="3.05" fill="#000"/>
<circle cx="353.55" cy="364.00" r="3.05" fill="#000"/>
<circle cx="390.35" cy="275.25" r="3.05" fill="#000"/>
<circle cx="390.35" cy="301.00" r="3.05" fill="#000"/>
<circle cx="390.35" cy="330.00" r="3.05" fill="#000"/>
<circle cx="390.35" cy="341.50" r="3.05" fill="#000"/>
<circle cx="390.35" cy="351.50" r="3.05" fill="#000"/>
<circle cx="390.35" cy="355.25" r="3.05" fill="#000"/>
<circle cx="390.35" cy="359.50" r="3.05" fill="#000"/>
<circle cx="390.35" cy="364.00" r="3.05" fill="#000"/>
<circle cx="427.15" cy="230.25" r="3.05" fill="#000"/>
<circle cx="427.15" cy="284.75" r="3.05" fill="#000"/>
<circle cx="427.15" cy="290.50" r="3.05" fill="#000"/>
<circle cx="427.15" cy="332.25" r="3.05" fill="#000"/>
<circle cx="427.15" cy="344.00" r="3.05" fill="#000"/>
<circle cx="427.15" cy="349.50" r="3.05" fill="#000"/>
<circle cx="427.15" cy="357.75" r="3.05" fill="#000"/>
<circle cx="427.15" cy="364.00" r="3.05" fill="#000"/>
<circle cx="463.95" cy="255.25" r="3.05" fill="#000"/>
<circle cx="463.95" cy="292.25" r="3.05" fill="#000"/>
<circle cx="463.95" cy="304.75" r="3.05" fill="#000"/>
<circle cx="463.95" cy="341.25" r="3.05" fill="#000"/>
<circle cx="463.95" cy="346.30" r="3.05" fill="#000"/>
<circle cx="463.95" cy="358.30" r="3.05" fill="#000"/>
<circle cx="463.95" cy="361.50" r="3.05" fill="#000"/>
<circle cx="463.95" cy="364.60" r="3.05" fill="#000"/>
<circle cx="500.75" cy="299.50" r="3.05" fill="#000"/>
<circle cx="500.75" cy="305.25" r="3.05" fill="#000"/>
<circle cx="500.75" cy="327.75" r="3.05" fill="#000"/>
<circle cx="500.75" cy="355.50" r="3.05" fill="#000"/>
<circle cx="500.75" cy="360.50" r="3.05" fill="#000"/>
<circle cx="500.75" cy="364.70" r="3.05" fill="#000"/>
<line x1="326.50" y1="322.00" x2="326.50" y2="371.90" stroke="#3c3c3c" stroke-width="1.0"/>
<line x1="323.50" y1="322.50" x2="329.50" y2="322.50" stroke="#3c3c3c" stroke-width="1.0"/>
<line x1="323.50" y1="371.50" x2="329.50" y2="371.50" stroke="#3c3c3c" stroke-width="1.0"/>
<circle cx="326.50" cy="347.25" r="2.65" fill="#fff" stroke="#111" stroke-width="1.1"/>
<line x1="363.50" y1="336.00" x2="363.50" y2="368.25" stroke="#3c3c3c" stroke-width="1.0"/>
<line x1="360.50" y1="336.50" x2="366.50" y2="336.50" stroke="#3c3c3c" stroke-width="1.0"/>
<line x1="360.50" y1="368.50" x2="366.50" y2="368.50" stroke="#3c3c3c" stroke-width="1.0"/>
<circle cx="363.50" cy="352.25" r="2.65" fill="#fff" stroke="#111" stroke-width="1.1"/>
<line x1="400.50" y1="331.00" x2="400.50" y2="369.75" stroke="#3c3c3c" stroke-width="1.0"/>
<line x1="397.50" y1="330.50" x2="403.50" y2="330.50" stroke="#3c3c3c" stroke-width="1.0"/>
<line x1="397.50" y1="369.50" x2="403.50" y2="369.50" stroke="#3c3c3c" stroke-width="1.0"/>
<circle cx="400.50" cy="350.75" r="2.65" fill="#fff" stroke="#111" stroke-width="1.1"/>
<line x1="437.50" y1="321.50" x2="437.50" y2="376.00" stroke="#3c3c3c" stroke-width="1.0"/>
<line x1="434.50" y1="321.50" x2="440.50" y2="321.50" stroke="#3c3c3c" stroke-width="1.0"/>
<line x1="434.50" y1="376.50" x2="440.50" y2="376.50" stroke="#3c3c3c" stroke-width="1.0"/>
<circle cx="437.50" cy="348.50" r="2.65" fill="#fff" stroke="#111" stroke-width="1.1"/>
<line x1="473.50" y1="329.00" x2="473.50" y2="374.40" stroke="#3c3c3c" stroke-width="1.0"/>
<line x1="470.50" y1="328.50" x2="476.50" y2="328.50" stroke="#3c3c3c" stroke-width="1.0"/>
<line x1="470.50" y1="374.50" x2="476.50" y2="374.50" stroke="#3c3c3c" stroke-width="1.0"/>
<circle cx="473.50" cy="351.60" r="2.65" fill="#fff" stroke="#111" stroke-width="1.1"/>
<line x1="510.50" y1="340.90" x2="510.50" y2="370.60" stroke="#3c3c3c" stroke-width="1.0"/>
<line x1="507.50" y1="340.50" x2="513.50" y2="340.50" stroke="#3c3c3c" stroke-width="1.0"/>
<line x1="507.50" y1="370.50" x2="513.50" y2="370.50" stroke="#3c3c3c" stroke-width="1.0"/>
<circle cx="510.50" cy="355.80" r="2.65" fill="#fff" stroke="#111" stroke-width="1.1"/>
<text x="259.60" y="208.00" font-size="13.6" text-anchor="start" fill="#111" font-weight="normal" stroke="#111" stroke-width="0.45" textLength="8.90" lengthAdjust="spacingAndGlyphs">D</text>
<text x="300.60" y="203.70" font-size="8.8" text-anchor="start" fill="#111" font-weight="normal" stroke="#111" stroke-width="0.3" textLength="35.80" lengthAdjust="spacingAndGlyphs">(pg/mL)</text>
</svg>
</body></html>
